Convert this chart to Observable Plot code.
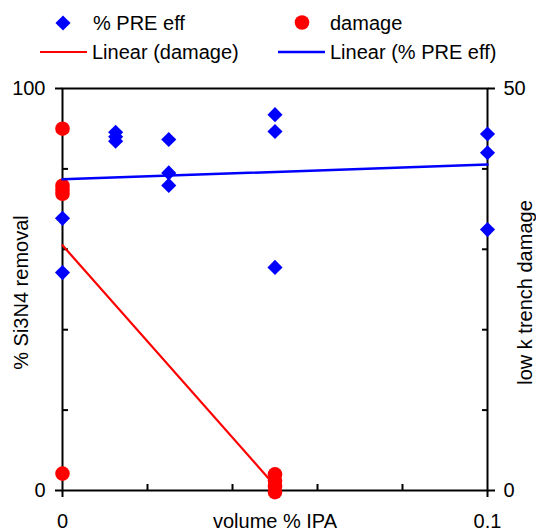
<!DOCTYPE html>
<html>
<head>
<meta charset="utf-8">
<script src="https://cdn.jsdelivr.net/npm/d3@7"></script>
<script src="https://cdn.jsdelivr.net/npm/@observablehq/plot@0.6"></script>
<style>
  body { margin: 0; background: #fff; }
  #chart { width: 536px; }
  #chart svg { display: block; }
</style>
</head>
<body>
<div id="chart"></div>
<script>
// % PRE efficiency (left axis) against volume % IPA
const preX = [0, 0, 0.0125, 0.0125, 0.0125, 0.025, 0.025, 0.025, 0.05, 0.05, 0.05, 0.1, 0.1, 0.1];
const preEff = [67.7, 54.2, 89.1, 88.0, 86.9, 87.3, 79.0, 75.9, 93.5, 89.3, 55.5, 88.7, 84.0, 64.9];

// low k trench damage (right axis) against volume % IPA
const damageX = [0, 0, 0, 0, 0, 0.05, 0.05, 0.05, 0.05];
const damage = [45.0, 37.9, 37.4, 36.9, 2.1, 2.0, 1.2, 0.5, -0.2];

// linear trend lines (end points)
const preTrendX = [0, 0.1];
const preTrend = [77.4, 81.1];
const damageTrendX = [0, 0.05];
const damageTrend = [30.5, 0.6];

// axis ticks
const xMajor = [0, 0.1];
const xMinor = [0.02, 0.04, 0.06, 0.08];
const leftMajor = [0, 100];
const leftMinor = [20, 40, 60, 80];
const rightMajor = [0, 50];
const rightMinor = [10, 20, 30, 40];

// text
const xTitle = "volume % IPA";
const leftTitle = "% Si3N4 removal";
const rightTitle = "low k trench damage";
const legendLabels = ["% PRE eff", "damage", "Linear (damage)", "Linear (% PRE eff)"];

const BLUE = "#0000ff";
const RED = "#ff0000";
const FONT = '"Liberation Sans", Arial, sans-serif';

// the damage axis (0–50) shares the plot height with the removal axis (0–100)
const toLeft = d3.scaleLinear([0, 50], [0, 100]);

const preData = preX.map((x, i) => ({x, y: preEff[i]}));
const damageData = damageX.map((x, i) => ({x, y: toLeft(damage[i])}));
const preLine = preTrendX.map((x, i) => ({x, y: preTrend[i]}));
const damageLine = damageTrendX.map((x, i) => ({x, y: toLeft(damageTrend[i])}));

// legend strip above the chart
const legend = d3.create("svg")
  .attr("width", 536).attr("height", 70)
  .style("font-family", FONT).style("font-size", "20px");
legend.append("path")
  .attr("d", d3.symbol(d3.symbolDiamond2, Math.PI * 6.8 * 6.8)())
  .attr("transform", "translate(63,23)").attr("fill", BLUE);
legend.append("text").attr("x", 93).attr("y", 30).text(legendLabels[0]);
legend.append("circle").attr("cx", 302).attr("cy", 22.5).attr("r", 7.3).attr("fill", RED);
legend.append("text").attr("x", 330).attr("y", 30).text(legendLabels[1]);
legend.append("line").attr("x1", 40).attr("x2", 87).attr("y1", 52).attr("y2", 52)
  .attr("stroke", RED).attr("stroke-width", 2.2);
legend.append("text").attr("x", 92).attr("y", 59).text(legendLabels[2]);
legend.append("line").attr("x1", 278).attr("x2", 325).attr("y1", 52).attr("y2", 52)
  .attr("stroke", BLUE).attr("stroke-width", 2.5);
legend.append("text").attr("x", 330).attr("y", 59).text(legendLabels[3]);

const plot = Plot.plot({
  width: 536,
  height: 461,
  marginTop: 18,
  marginBottom: 41,
  marginLeft: 62,
  marginRight: 49,
  x: {domain: [0, 0.1], label: null},
  y: {domain: [0, 100], label: null},
  style: {fontFamily: FONT, fontSize: "20px", color: "black", background: "white", overflow: "visible"},
  marks: [
    Plot.frame({stroke: "black", strokeWidth: 2}),
    // left axis
    Plot.axisY(leftMajor, {anchor: "left", tickSize: 7, tickPadding: 10, strokeWidth: 2, fontSize: 20, label: null, tickFormat: d => String(d)}),
    Plot.axisY(leftMinor, {anchor: "left", tickSize: -6, strokeWidth: 2, fill: "none", label: null}),
    // right axis
    Plot.axisY(rightMajor.map(toLeft), {anchor: "right", tickSize: 7, tickPadding: 9, strokeWidth: 2, fontSize: 20, label: null, tickFormat: d => String(toLeft.invert(d))}),
    Plot.axisY(rightMinor.map(toLeft), {anchor: "right", tickSize: -6, strokeWidth: 2, fill: "none", label: null}),
    // bottom axis
    Plot.axisX(xMajor, {anchor: "bottom", tickSize: 7, tickPadding: 16, strokeWidth: 2, fontSize: 20, label: null, tickFormat: d => String(d)}),
    Plot.axisX(xMinor, {anchor: "bottom", tickSize: -6, strokeWidth: 2, fill: "none", label: null}),
    // axis titles
    Plot.text([xTitle], {text: d => d, frameAnchor: "bottom", dy: 23, lineAnchor: "top", fontSize: 20}),
    Plot.text([leftTitle], {text: d => d, frameAnchor: "left", dx: -41, dy: 3, rotate: -90, textAnchor: "middle", lineAnchor: "middle", fontSize: 20}),
    Plot.text([rightTitle], {text: d => d, frameAnchor: "right", dx: 38, dy: 3, rotate: -90, textAnchor: "middle", lineAnchor: "middle", fontSize: 20}),
    // data
    Plot.dot(preData, {x: "x", y: "y", symbol: "diamond2", r: 6.8, fill: BLUE, stroke: "none"}),
    Plot.dot(damageData, {x: "x", y: "y", r: 7.3, fill: RED, stroke: "none"}),
    Plot.line(damageLine, {x: "x", y: "y", stroke: RED, strokeWidth: 2.2}),
    Plot.line(preLine, {x: "x", y: "y", stroke: BLUE, strokeWidth: 2.5})
  ]
});

const chart = document.getElementById("chart");
chart.append(legend.node());
chart.append(plot);
</script>
</body>
</html>
